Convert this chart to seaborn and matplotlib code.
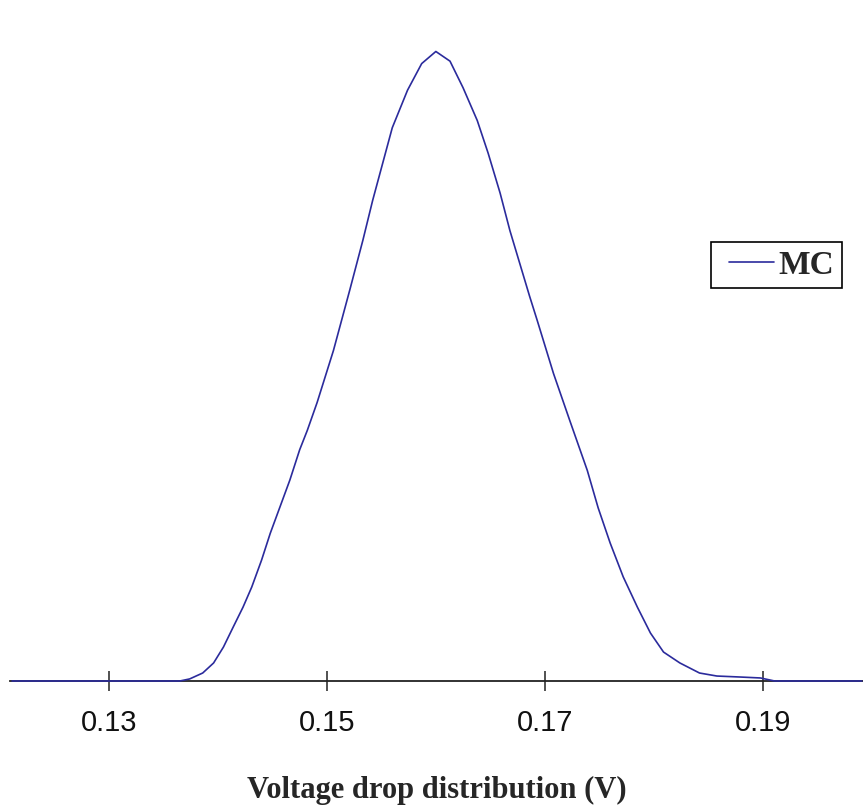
"""Monte Carlo voltage drop distribution (MC density curve)."""
import matplotlib

matplotlib.use("Agg")
import matplotlib.pyplot as plt
import pandas as pd
import seaborn as sns
from matplotlib.legend_handler import HandlerLine2D

# voltage drop (V) and estimated density
voltage = [0.1211, 0.1292, 0.1365, 0.1374, 0.1386, 0.1396, 0.1405, 0.1414,
           0.1423, 0.1431, 0.1440, 0.1448, 0.1457, 0.1466, 0.1475, 0.1482,
           0.1491, 0.1506, 0.1521, 0.1533, 0.1542, 0.1551, 0.1560, 0.1574,
           0.1587, 0.1600, 0.1613, 0.1625, 0.1638, 0.1648, 0.1659, 0.1668,
           0.1677, 0.1686, 0.1693, 0.1708, 0.1723, 0.1739, 0.1749, 0.1760,
           0.1772, 0.1785, 0.1797, 0.1809, 0.1824, 0.1842, 0.1858, 0.1879,
           0.1898, 0.1911, 0.1991]
density = [0.0, 0.0, 0.0, 0.17, 0.66, 1.49, 2.8, 4.46,
           6.1, 7.76, 9.98, 12.2, 14.4, 16.6, 19.1, 20.7,
           23.0, 27.3, 32.3, 36.4, 39.7, 42.7, 45.7, 48.8,
           51.0, 52.0, 51.2, 49.0, 46.3, 43.6, 40.3, 37.2,
           34.5, 31.8, 29.8, 25.4, 21.5, 17.4, 14.3, 11.4,
           8.6, 6.1, 3.96, 2.39, 1.49, 0.66, 0.41, 0.33,
           0.25, 0.0, 0.0]
series = ["MC"] * len(voltage)
xticks = [0.13, 0.15, 0.17, 0.19]
xticklabels = ["0.13", "0.15", "0.17", "0.19"]

df = pd.DataFrame({"voltage": voltage, "density": density, "series": series})

sns.set_style("white")
plt.rcParams["font.family"] = ["Liberation Sans", "DejaVu Sans"]

fig = plt.figure(figsize=(8.63, 8.07), dpi=100)
ax = fig.add_axes([10 / 863, 126 / 807, 853 / 863, 661 / 807])

sns.lineplot(data=df, x="voltage", y="density", hue="series",
             palette=["#2b2b9c"], linewidth=1.2, ax=ax, zorder=3,
             clip_on=False)

ax.set_xlim(0.12091, 0.19921)
ax.set_ylim(0, 54.6)

for side in ["top", "right", "left"]:
    ax.spines[side].set_visible(False)
ax.spines["bottom"].set_color("#222222")
ax.spines["bottom"].set_linewidth(1.3)

ax.set_yticks([])
ax.set_ylabel("")
ax.set_xticks(xticks)
ax.set_xticklabels(xticklabels)
ax.tick_params(axis="x", direction="inout", length=14, width=1.1,
               color="#222222", pad=13, labelsize=21, labelcolor="#111111")
ax.tick_params(axis="x", bottom=True)

ax.set_xlabel("Voltage drop distribution (V)", fontsize=22, fontweight="bold",
              family=["Liberation Serif", "DejaVu Serif"], labelpad=28.5)

# legend box with the short line set in from the left edge
handles, labels = ax.get_legend_handles_labels()
ax.legend(handles, labels, loc="upper left",
          bbox_to_anchor=(711 / 863, 1 - 242 / 807),
          bbox_transform=fig.transFigure, borderaxespad=0, frameon=True,
          fancybox=False, framealpha=1, edgecolor="black",
          prop={"family": ["Liberation Serif", "DejaVu Serif"],
                "weight": "bold", "size": 24},
          handlelength=1.65, handletextpad=0.15, borderpad=0.23,
          handler_map={handles[0]: HandlerLine2D(xpad=0.31)})
leg = ax.get_legend()
leg.get_frame().set_linewidth(1.2)

fig.savefig("out.png", dpi=100)
